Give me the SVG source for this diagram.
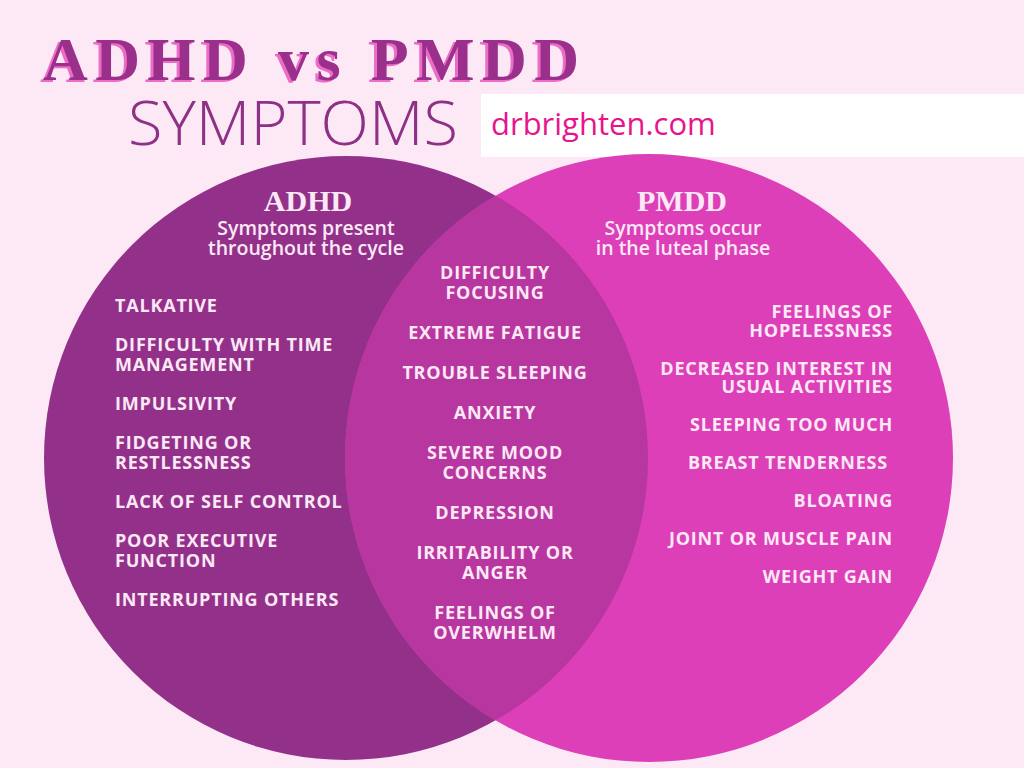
<svg xmlns="http://www.w3.org/2000/svg" width="1024" height="768" viewBox="0 0 1024 768">
<defs>
<clipPath id="clipL"><circle cx="346" cy="458" r="302"/></clipPath>
<style>
.title{font-family:"Liberation Serif",serif;font-weight:bold;font-size:62px}
.sym{font-family:"Open Sans","Noto Sans",sans-serif;font-weight:300;font-size:60px;fill:#8e3085}
.url{font-family:"Open Sans","Noto Sans",sans-serif;font-size:31px;fill:#e8148c}
.hd{font-family:"Liberation Serif",serif;font-weight:bold;font-size:30px;fill:#fde8f6;text-anchor:middle}
.sub{font-family:"Open Sans","Noto Sans",sans-serif;font-weight:600;font-size:19.5px;fill:#fde8f6;text-anchor:middle}
.it{font-family:"Open Sans","Noto Sans",sans-serif;font-weight:bold;font-size:18px;fill:#fde8f6;letter-spacing:0.8px}
.l{text-anchor:start}
.c{text-anchor:middle}
.r{text-anchor:end}
</style>
</defs>
<rect width="1024" height="768" fill="#fde8f6"/>
<g id="title">
<text class="title" x="40" y="82" fill="#ec6cc6" textLength="536" lengthAdjust="spacing">ADHD vs PMDD</text>
<text class="title" x="43" y="80" fill="#9b2f8c" textLength="536" lengthAdjust="spacing">ADHD vs PMDD</text>
<text class="sym" x="128" y="145" textLength="330" lengthAdjust="spacingAndGlyphs">SYMPTOMS</text>
</g>
<g id="urlbox">
<rect x="481" y="94" width="543" height="63" fill="#ffffff"/>
<text class="url" x="491" y="135">drbrighten.com</text>
</g>
<g id="adhd-circle">
<circle cx="346" cy="458" r="302" fill="#93318a"/>
</g>
<g id="pmdd-circle">
<circle cx="649" cy="458" r="304" fill="#dc3fb8"/>
</g>
<g id="overlap">
<circle cx="649" cy="458" r="304" fill="#b8369f" clip-path="url(#clipL)"/>
</g>
<g id="connectors"></g>
<g id="adhd-text">
<text class="hd" x="308" y="211">ADHD</text>
<text class="sub" x="306" y="235">Symptoms present</text>
<text class="sub" x="306" y="255">throughout the cycle</text>
<text class="it l" x="115" y="312">TALKATIVE</text>
<text class="it l" x="115" y="351">DIFFICULTY WITH TIME</text>
<text class="it l" x="115" y="371">MANAGEMENT</text>
<text class="it l" x="115" y="410">IMPULSIVITY</text>
<text class="it l" x="115" y="449">FIDGETING OR</text>
<text class="it l" x="115" y="469">RESTLESSNESS</text>
<text class="it l" x="115" y="508">LACK OF SELF CONTROL</text>
<text class="it l" x="115" y="547">POOR EXECUTIVE</text>
<text class="it l" x="115" y="567">FUNCTION</text>
<text class="it l" x="115" y="606">INTERRUPTING OTHERS</text>
</g>
<g id="shared-text">
<text class="it c" x="495" y="279">DIFFICULTY</text>
<text class="it c" x="495" y="299">FOCUSING</text>
<text class="it c" x="495" y="339">EXTREME FATIGUE</text>
<text class="it c" x="495" y="379">TROUBLE SLEEPING</text>
<text class="it c" x="495" y="419">ANXIETY</text>
<text class="it c" x="495" y="459">SEVERE MOOD</text>
<text class="it c" x="495" y="479">CONCERNS</text>
<text class="it c" x="495" y="519">DEPRESSION</text>
<text class="it c" x="495" y="559">IRRITABILITY OR</text>
<text class="it c" x="495" y="579">ANGER</text>
<text class="it c" x="495" y="619">FEELINGS OF</text>
<text class="it c" x="495" y="639">OVERWHELM</text>
</g>
<g id="pmdd-text">
<text class="hd" x="682" y="211">PMDD</text>
<text class="sub" x="683" y="235">Symptoms occur</text>
<text class="sub" x="683" y="255">in the luteal phase</text>
<text class="it r" x="893" y="318">FEELINGS OF</text>
<text class="it r" x="893" y="337">HOPELESSNESS</text>
<text class="it r" x="893" y="375">DECREASED INTEREST IN</text>
<text class="it r" x="893" y="393">USUAL ACTIVITIES</text>
<text class="it r" x="893" y="431">SLEEPING TOO MUCH</text>
<text class="it r" x="888" y="469">BREAST TENDERNESS</text>
<text class="it r" x="893" y="507">BLOATING</text>
<text class="it r" x="893" y="545">JOINT OR MUSCLE PAIN</text>
<text class="it r" x="893" y="583">WEIGHT GAIN</text>
</g>
</svg>
